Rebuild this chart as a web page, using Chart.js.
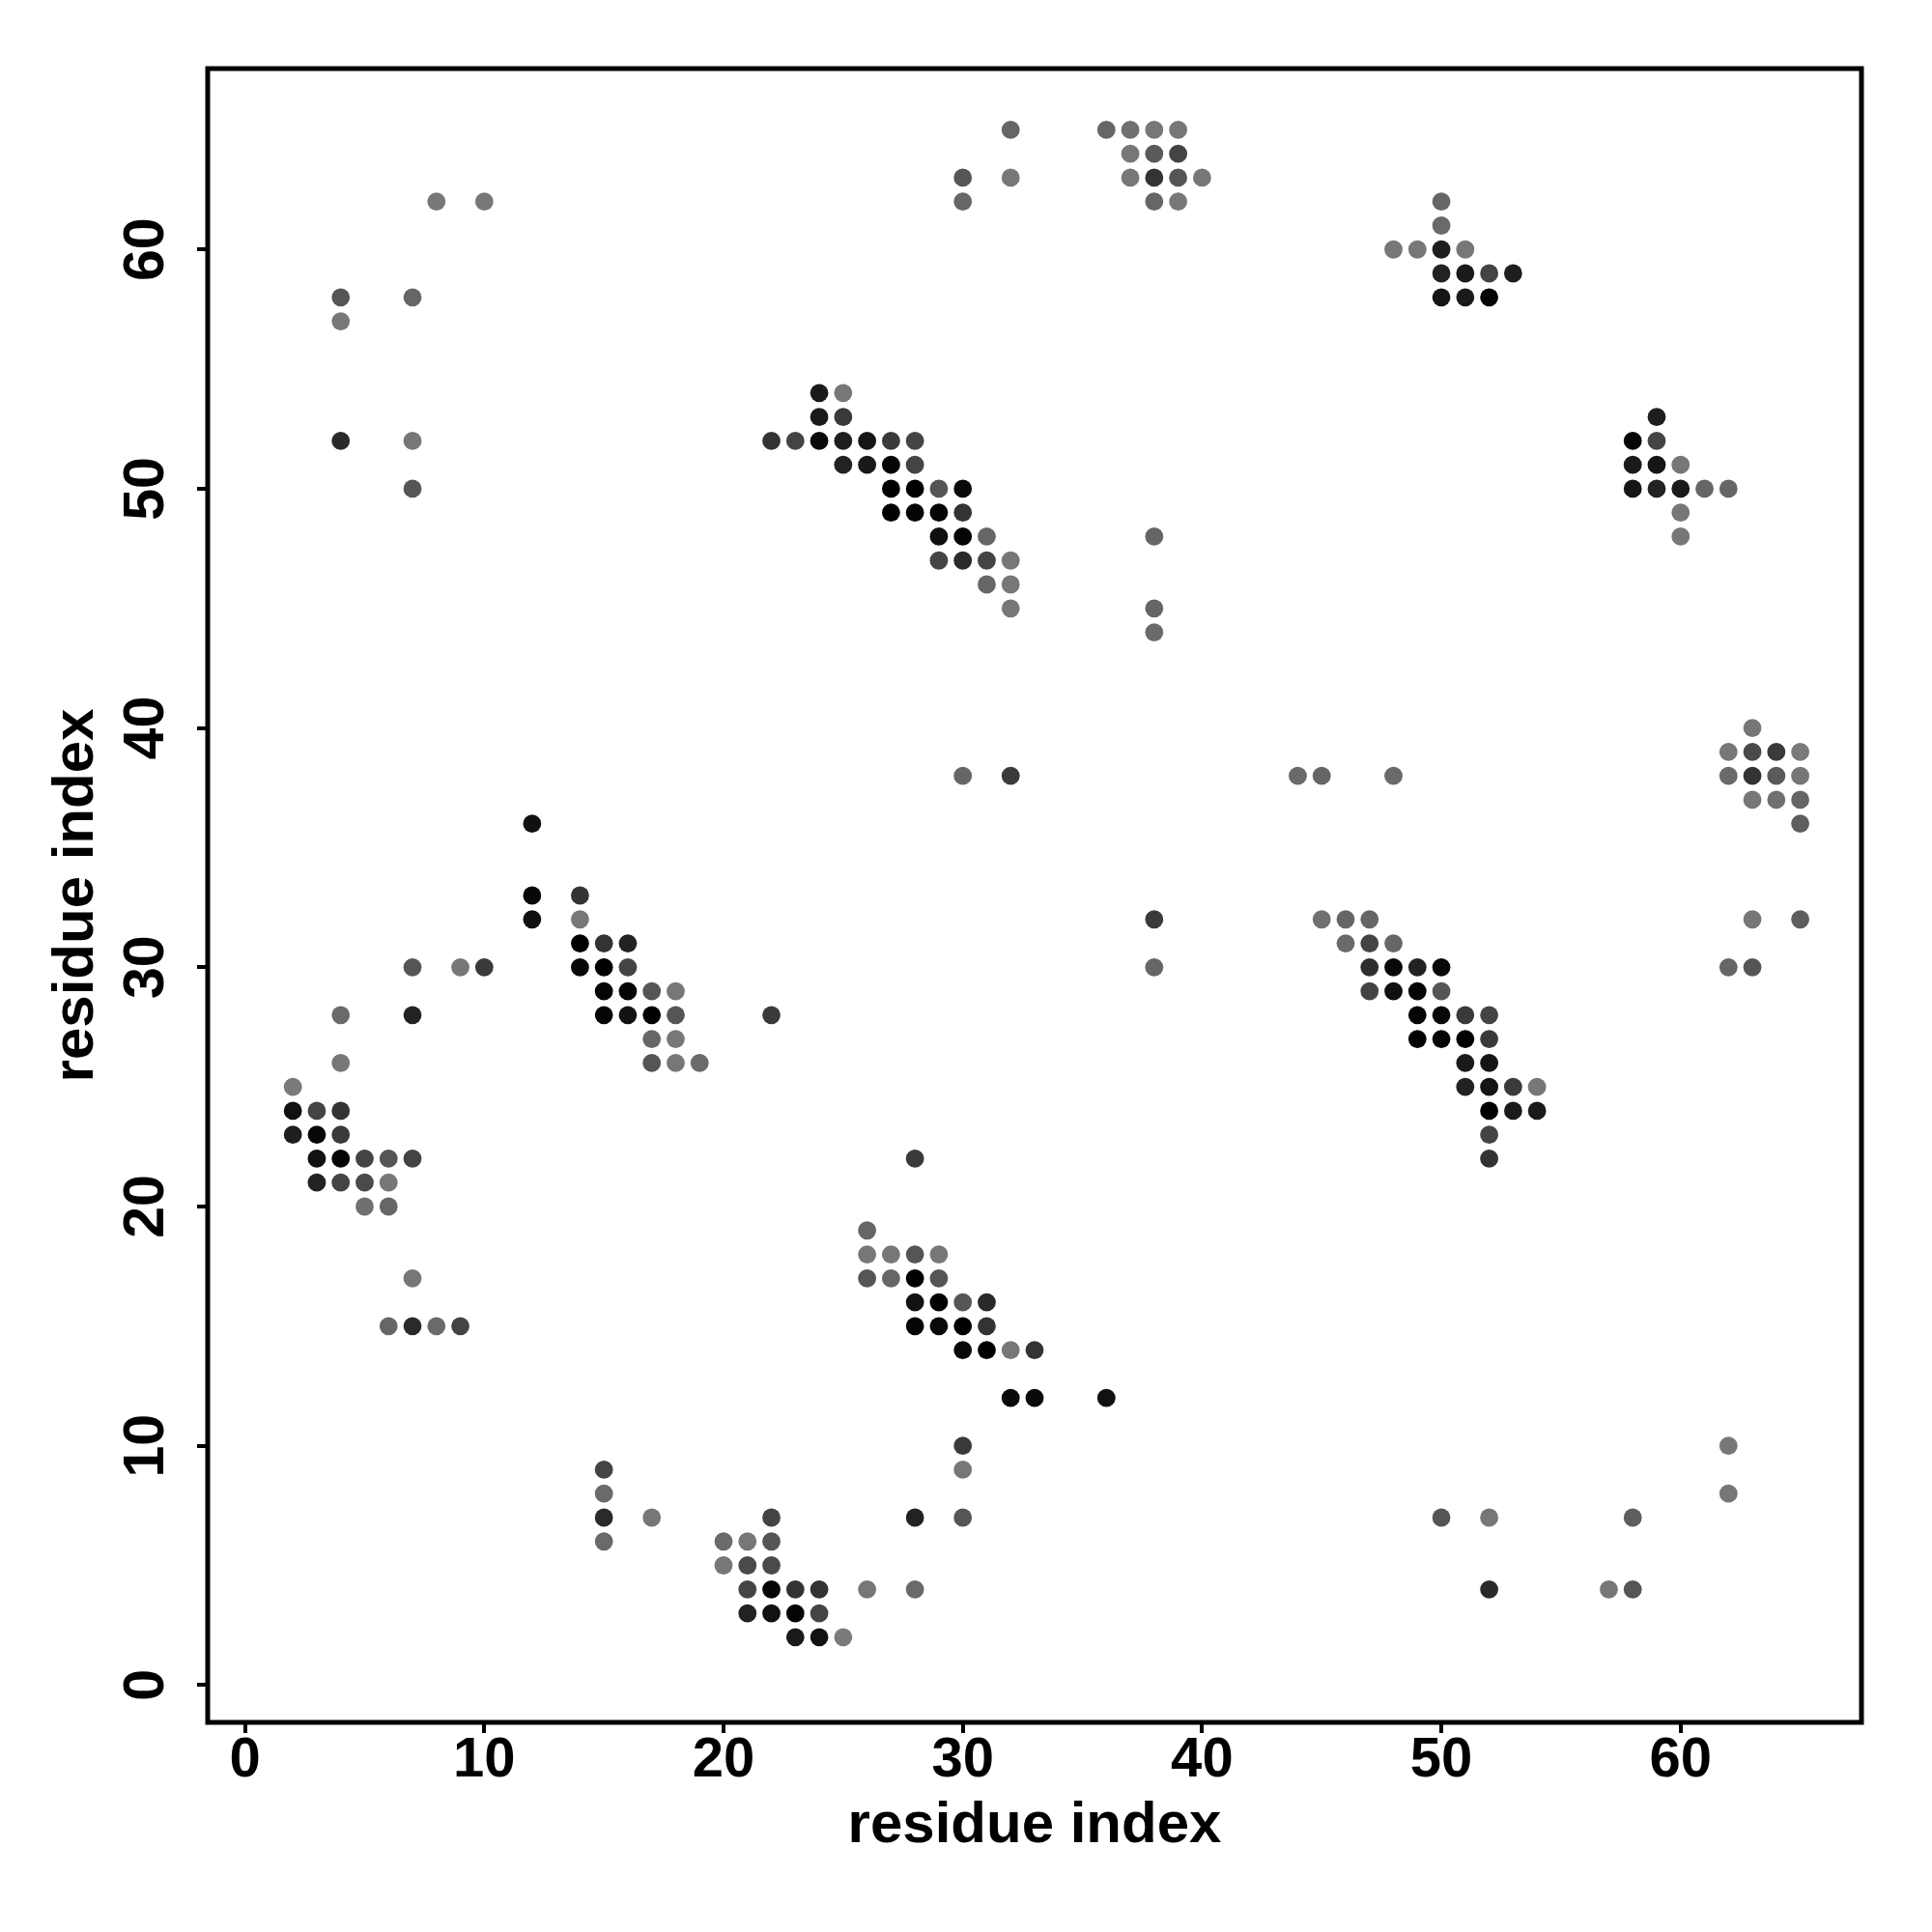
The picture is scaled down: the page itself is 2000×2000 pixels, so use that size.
<!DOCTYPE html>
<html lang="en">
<head>
<meta charset="UTF-8">
<title>Contact map</title>
<script src="https://cdn.jsdelivr.net/npm/chart.js"></script>
<style>
    * { margin: 0; padding: 0; box-sizing: border-box; }
    body { background: white; width: 2000px; height: 2000px; overflow: hidden; }
    #wrap { position: relative; width: 2000px; height: 2000px; }
</style>
</head>
<body>
<div id="wrap"><canvas id="map"></canvas></div>
<script>
// contacts: residue i (x), residue j (y), grey level of the dot (0 = black)
const resX = [
    32, 36, 37, 38, 39,
    37, 38, 39,
    30, 32, 37, 38, 39, 40,
    8, 10, 30, 38, 39, 50,
    50,
    48, 49, 50, 51,
    50, 51, 52, 53,
    4, 7, 50, 51, 52,
    4,
    24, 25,
    24, 25, 59,
    4, 7, 22, 23, 24, 25, 26, 27, 28, 58, 59,
    25, 26, 27, 28, 58, 59, 60,
    7, 27, 28, 29, 30, 58, 59, 60, 61, 62,
    27, 28, 29, 30, 60,
    29, 30, 31, 38, 60,
    29, 30, 31, 32,
    31, 32,
    32, 38,
    38,
    63,
    62, 63, 64, 65,
    30, 32, 44, 45, 48, 62, 63, 64, 65,
    63, 64, 65,
    12, 65,
    12, 14,
    12, 14, 38, 45, 46, 47, 63, 65,
    14, 15, 16, 46, 47, 48,
    7, 9, 10, 14, 15, 16, 38, 47, 48, 49, 50, 62, 63,
    15, 16, 17, 18, 47, 48, 49, 50,
    4, 7, 15, 16, 17, 18, 22, 49, 50, 51, 52,
    17, 18, 49, 50, 51, 52,
    4, 17, 18, 19, 51, 52,
    2, 51, 52, 53, 54,
    2, 3, 4, 52, 53, 54,
    2, 3, 4, 52,
    3, 4, 5, 6, 7, 28, 52,
    3, 4, 5, 6,
    5, 6,
    26,
    26, 27, 28, 29,
    7, 26, 27, 28, 29,
    28, 29, 30, 31,
    6, 7, 8, 9, 28, 29, 30, 31,
    30, 31, 32, 33,
    32, 33, 36,
    30, 62,
    15, 30,
    15, 62,
    15, 17, 22, 28, 30, 50, 52, 58,
    15, 20, 21, 22,
    20, 21, 22,
    21, 22, 23, 24, 26, 28, 52, 57, 58,
    21, 22, 23, 24,
    23, 24, 25
];
const resY = [
    65, 65, 65, 65, 65,
    64, 64, 64,
    63, 63, 63, 63, 63, 63,
    62, 62, 62, 62, 62, 62,
    61,
    60, 60, 60, 60,
    59, 59, 59, 59,
    58, 58, 58, 58, 58,
    57,
    54, 54,
    53, 53, 53,
    52, 52, 52, 52, 52, 52, 52, 52, 52, 52, 52,
    51, 51, 51, 51, 51, 51, 51,
    50, 50, 50, 50, 50, 50, 50, 50, 50, 50,
    49, 49, 49, 49, 49,
    48, 48, 48, 48, 48,
    47, 47, 47, 47,
    46, 46,
    45, 45,
    44,
    40,
    39, 39, 39, 39,
    38, 38, 38, 38, 38, 38, 38, 38, 38,
    37, 37, 37,
    36, 36,
    33, 33,
    32, 32, 32, 32, 32, 32, 32, 32,
    31, 31, 31, 31, 31, 31,
    30, 30, 30, 30, 30, 30, 30, 30, 30, 30, 30, 30, 30,
    29, 29, 29, 29, 29, 29, 29, 29,
    28, 28, 28, 28, 28, 28, 28, 28, 28, 28, 28,
    27, 27, 27, 27, 27, 27,
    26, 26, 26, 26, 26, 26,
    25, 25, 25, 25, 25,
    24, 24, 24, 24, 24, 24,
    23, 23, 23, 23,
    22, 22, 22, 22, 22, 22, 22,
    21, 21, 21, 21,
    20, 20,
    19,
    18, 18, 18, 18,
    17, 17, 17, 17, 17,
    16, 16, 16, 16,
    15, 15, 15, 15, 15, 15, 15, 15,
    14, 14, 14, 14,
    12, 12, 12,
    10, 10,
    9, 9,
    8, 8,
    7, 7, 7, 7, 7, 7, 7, 7,
    6, 6, 6, 6,
    5, 5, 5,
    4, 4, 4, 4, 4, 4, 4, 4, 4,
    3, 3, 3, 3,
    2, 2, 2
];
const shade = [
    102, 102, 112, 119, 119,
    119, 90, 68,
    85, 119, 119, 51, 85, 119,
    119, 119, 102, 102, 119, 102,
    106,
    119, 119, 30, 119,
    34, 26, 68, 30,
    85, 102, 21, 26, 5,
    119,
    26, 119,
    26, 58, 30,
    42, 119, 51, 68, 10, 30, 21, 58, 68, 5, 68,
    34, 24, 5, 68, 26, 21, 119,
    85, 0, 0, 85, 10, 21, 34, 26, 102, 102,
    0, 5, 5, 51, 119,
    15, 5, 102, 102, 119,
    68, 42, 68, 119,
    102, 119,
    119, 102,
    106,
    119,
    119, 74, 58, 122,
    102, 58, 106, 102, 106, 106, 51, 90, 119,
    119, 112, 102,
    17, 94,
    8, 51,
    15, 119, 58, 112, 102, 102, 119, 94,
    0, 51, 34, 106, 68, 102,
    85, 119, 58, 8, 0, 68, 102, 46, 8, 34, 8, 102, 85,
    5, 5, 85, 119, 68, 15, 5, 85,
    106, 34, 5, 17, 0, 85, 58, 5, 8, 58, 68,
    102, 119, 0, 5, 0, 58,
    119, 85, 119, 106, 26, 21,
    122, 34, 21, 58, 119,
    17, 68, 51, 0, 26, 26,
    30, 8, 58, 68,
    17, 5, 68, 85, 68, 58, 51,
    34, 68, 74, 119,
    112, 102,
    102,
    119, 119, 85, 119,
    119, 85, 102, 0, 85,
    17, 0, 85, 42,
    102, 42, 106, 68, 5, 8, 0, 51,
    8, 0, 119, 51,
    10, 10, 17,
    58, 119,
    68, 119,
    106, 119,
    42, 119, 68, 34, 85, 85, 119, 94,
    106, 106, 119, 85,
    119, 74, 74,
    68, 5, 51, 51, 119, 106, 42, 119, 85,
    34, 17, 5, 68,
    26, 17, 122
];
const xTicks = [0, 10, 20, 30, 40, 50, 60];
const yTicks = [0, 10, 20, 30, 40, 50, 60];
const axisMin = -1.56, axisMax = 67.56;
const axisTitle = 'residue index';

const points = resX.map((x, i) => ({ x: x, y: resY[i] }));
const colours = shade.map(g => `rgb(${g}, ${g}, ${g})`);

const font = "'Liberation Sans', Arial, Helvetica, sans-serif";

// frame round the plot, and y tick labels turned sideways like R draws them
const framePlugin = {
    id: 'frame',
    afterDraw(chart) {
        const ctx = chart.ctx;
        const a = chart.chartArea;
        ctx.save();
        ctx.strokeStyle = '#000';
        ctx.lineWidth = 5;
        ctx.strokeRect(a.left, a.top, a.right - a.left, a.bottom - a.top);

        const ys = chart.scales.y;
        ctx.fillStyle = '#000';
        ctx.font = `bold 59px ${font}`;
        ctx.textAlign = 'center';
        ctx.textBaseline = 'alphabetic';
        yTicks.forEach(v => {
            const py = ys.getPixelForValue(v);
            ctx.save();
            ctx.translate(169, py);
            ctx.rotate(-Math.PI / 2);
            ctx.fillText(String(v), 0, 0);
            ctx.restore();
        });
        ctx.restore();
    }
};

const canvas = document.getElementById('map');
canvas.width = 2000;
canvas.height = 2000;

new Chart(canvas.getContext('2d'), {
    type: 'scatter',
    data: {
        datasets: [{
            data: points,
            pointBackgroundColor: colours,
            pointBorderWidth: 0,
            pointRadius: 9.4,
            pointHoverRadius: 9.4
        }]
    },
    options: {
        responsive: false,
        animation: false,
        events: [],
        layout: { padding: { top: 71, right: 73, left: 0, bottom: 0 } },
        plugins: { legend: { display: false }, tooltip: { enabled: false } },
        scales: {
            x: {
                type: 'linear',
                min: axisMin,
                max: axisMax,
                afterFit(scale) { scale.height = 217; },
                afterBuildTicks(scale) { scale.ticks = xTicks.map(v => ({ value: v })); },
                border: { display: false },
                grid: { drawOnChartArea: false, drawTicks: true, tickLength: 11, color: '#000', lineWidth: 4 },
                ticks: {
                    color: '#000',
                    padding: 0,
                    maxRotation: 0,
                    font: { family: font, size: 58, weight: 'bold', lineHeight: 1 }
                },
                title: {
                    display: true,
                    text: axisTitle,
                    color: '#000',
                    font: { family: font, size: 60, weight: 'bold', lineHeight: 1 },
                    padding: { top: 0, bottom: 80 }
                }
            },
            y: {
                type: 'linear',
                min: axisMin,
                max: axisMax,
                afterFit(scale) { scale.width = 215; },
                afterBuildTicks(scale) { scale.ticks = yTicks.map(v => ({ value: v })); },
                border: { display: false },
                grid: { drawOnChartArea: false, drawTicks: true, tickLength: 11, color: '#000', lineWidth: 4 },
                ticks: { display: false },
                title: {
                    display: true,
                    text: axisTitle,
                    color: '#000',
                    font: { family: font, size: 60, weight: 'bold', lineHeight: 1 },
                    padding: { top: 49, bottom: 0 }
                }
            }
        }
    },
    plugins: [framePlugin]
});
</script>
</body>
</html>
